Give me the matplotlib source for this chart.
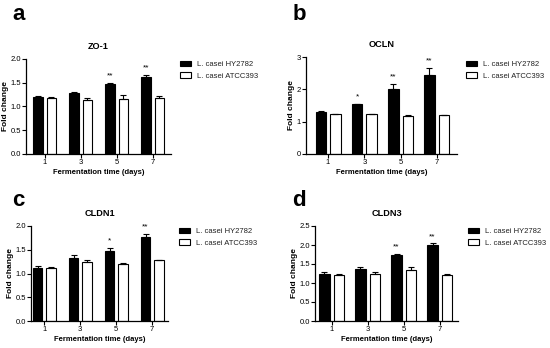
import matplotlib
matplotlib.use("Agg")
import matplotlib.pyplot as plt
import numpy as np
from matplotlib.patches import Patch

plt.rcParams["font.family"] = ["Liberation Sans", "DejaVu Sans"]

days = ["1", "3", "5", "7"]
strains = ["L. casei HY2782", "L. casei ATCC393"]

zo1_hy = [1.20, 1.28, 1.47, 1.62]
zo1_hy_err = [0.01, 0.03, 0.02, 0.04]
zo1_atcc = [1.17, 1.14, 1.16, 1.18]
zo1_atcc_err = [0.02, 0.04, 0.07, 0.03]
zo1_stars = ["", "", "**", "**"]

ocln_hy = [1.29, 1.54, 2.01, 2.43]
ocln_hy_err = [0.03, 0.02, 0.16, 0.22]
ocln_atcc = [1.23, 1.23, 1.18, 1.20]
ocln_atcc_err = [0.01, 0.02, 0.02, 0.01]
ocln_stars = ["", "*", "**", "**"]

cldn1_hy = [1.12, 1.33, 1.47, 1.76]
cldn1_hy_err = [0.03, 0.05, 0.06, 0.07]
cldn1_atcc = [1.11, 1.25, 1.19, 1.28]
cldn1_atcc_err = [0.03, 0.04, 0.04, 0.01]
cldn1_stars = ["", "", "*", "**"]

cldn3_hy = [1.25, 1.38, 1.74, 1.99]
cldn3_hy_err = [0.04, 0.03, 0.03, 0.05]
cldn3_atcc = [1.22, 1.25, 1.33, 1.21]
cldn3_atcc_err = [0.02, 0.03, 0.10, 0.04]
cldn3_stars = ["", "", "**", "**"]

W, H = 550, 348
fig = plt.figure(figsize=(W / 100, H / 100), dpi=100)

# panel layout in pixels: left, right, top, bottom of the axes box
panels = [
    dict(letter="a", title="ZO-1", hy=zo1_hy, hy_err=zo1_hy_err, atcc=zo1_atcc, atcc_err=zo1_atcc_err,
         stars=zo1_stars, box=(26, 171, 58.7, 154), xlim=(-0.52, 3.51), ymax=2.0, step=0.5, fmt="%.1f",
         width=0.26, off=0.185, lpos=(12, 20), leg=(180, 61)),
    dict(letter="b", title="OCLN", hy=ocln_hy, hy_err=ocln_hy_err, atcc=ocln_atcc, atcc_err=ocln_atcc_err,
         stars=ocln_stars, box=(306, 457, 57, 154), xlim=(-0.61, 3.56), ymax=3, step=1, fmt="%d",
         width=0.29, off=0.2, lpos=(293, 20), leg=(466, 61)),
    dict(letter="c", title="CLDN1", hy=cldn1_hy, hy_err=cldn1_hy_err, atcc=cldn1_atcc, atcc_err=cldn1_atcc_err,
         stars=cldn1_stars, box=(31, 168, 226, 321), xlim=(-0.37, 3.44), ymax=2.0, step=0.5, fmt="%.1f",
         width=0.26, off=0.185, lpos=(12, 206), leg=(179, 228)),
    dict(letter="d", title="CLDN3", hy=cldn3_hy, hy_err=cldn3_hy_err, atcc=cldn3_atcc, atcc_err=cldn3_atcc_err,
         stars=cldn3_stars, box=(315, 458, 226, 321), xlim=(-0.46, 3.51), ymax=2.5, step=0.5, fmt="%.1f",
         width=0.28, off=0.197, lpos=(292, 206), leg=(468, 228)),
]

x = np.arange(len(days))
for p in panels:
    l, r, t, b = p["box"]
    ax = fig.add_axes([l / W, 1 - b / H, (r - l) / W, (b - t) / H])
    w, off = p["width"], p["off"]
    ax.bar(x - off, p["hy"], w, color="black", edgecolor="black", linewidth=0.8, label=strains[0])
    ax.bar(x + off, p["atcc"], w, color="white", edgecolor="black", linewidth=0.8, label=strains[1])
    ax.errorbar(x - off, p["hy"], yerr=[np.zeros(4), p["hy_err"]], fmt="none", ecolor="black",
                elinewidth=0.8, capsize=2, capthick=0.8)
    ax.errorbar(x + off, p["atcc"], yerr=[np.zeros(4), p["atcc_err"]], fmt="none", ecolor="black",
                elinewidth=0.8, capsize=2, capthick=0.8)
    # significance marks above the HY2782 bars
    for xi, yv, e, s in zip(x, p["hy"], p["hy_err"], p["stars"]):
        if s:
            ax.annotate(s, (xi - off, yv + e), xytext=(0, 2.5), textcoords="offset points",
                        ha="center", va="bottom", fontsize=6)

    ax.set_xlim(*p["xlim"])
    ax.set_ylim(0, p["ymax"])
    ticks = np.arange(0, p["ymax"] + 1e-9, p["step"])
    ax.set_yticks(ticks)
    ax.set_yticklabels([p["fmt"] % v for v in ticks])
    ax.set_xticks(x)
    ax.set_xticklabels(days)
    for sp in ["top", "right"]:
        ax.spines[sp].set_visible(False)
    for sp in ["left", "bottom"]:
        ax.spines[sp].set_linewidth(0.9)
    ax.tick_params(length=2.8, width=0.8, labelsize=5.5, pad=0.8, colors="black")
    ax.set_title(p["title"], fontsize=6.6, fontweight="bold", pad=7)
    ax.set_ylabel("Fold change", fontsize=6, fontweight="bold", labelpad=1)
    ax.set_xlabel("Fermentation time (days)", fontsize=5.5, fontweight="bold", labelpad=2)

    lx, ly = p["lpos"]
    fig.text(lx / W, 1 - ly / H, p["letter"], fontsize=16, fontweight="bold", va="baseline")

    gx, gy = p["leg"]
    handles = [Patch(facecolor="black", edgecolor="black", linewidth=0.8),
               Patch(facecolor="white", edgecolor="black", linewidth=0.8)]
    ax.legend(handles, strains, loc="upper left", bbox_to_anchor=(gx / W, 1 - gy / H),
              bbox_transform=fig.transFigure, frameon=False, fontsize=5.5, borderpad=0,
              borderaxespad=0, handlelength=1.4, handleheight=0.7, handletextpad=0.8,
              labelspacing=0.5, labelcolor="#222222")

fig.savefig("out.png", dpi=100)
